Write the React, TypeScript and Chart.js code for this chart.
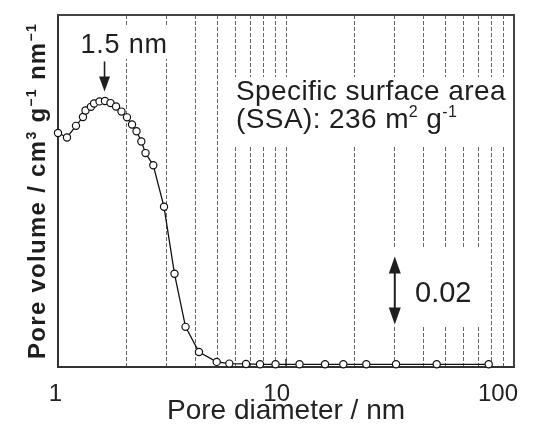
import React, { useEffect, useRef } from 'react';
import { Chart, registerables } from 'chart.js';

Chart.register(...registerables);

// ---- data ----
const poreDiameter = [
  1.0, 1.095, 1.199, 1.287, 1.32, 1.395, 1.439, 1.521, 1.607, 1.699, 1.797, 1.899,
  2.007, 2.112, 2.21, 2.32, 2.42, 2.618, 2.917, 3.243, 3.625, 4.153, 4.966, 5.641,
  6.677, 7.691, 8.995, 11.46, 14.83, 17.84, 22.5, 30.38, 45.81, 77.45,
];
const poreVolume = [
  0.0688, 0.0675, 0.0709, 0.0735, 0.0754, 0.0765, 0.0775, 0.0781, 0.0782, 0.0776, 0.0766, 0.0751,
  0.0734, 0.0713, 0.0693, 0.0663, 0.0629, 0.0593, 0.0471, 0.0274, 0.0118, 0.0044, 0.0015, 0.001,
  0.0009, 0.0008, 0.0008, 0.0008, 0.0008, 0.0008, 0.0008, 0.0008, 0.0008, 0.0008,
];
const gridValues = [1, 2, 3, 4, 5, 6, 7, 8, 9, 10, 20, 30, 40, 50, 60, 70, 80, 90, 100];
const tickLabels = [1, 10, 100];
const xTitle = 'Pore diameter / nm';
const peakLabel = '1.5 nm';
const peakArrowX = 1.6;
const ssaLine1 = 'Specific surface area';
const ssaValue = 236;
const scaleBarValue = 0.02;
const scaleBarX = 30;
const scaleBarTop = 0.0325;

const FONT = '"Liberation Sans", Arial, Helvetica, sans-serif';

type Seg = { t: string; sup?: boolean };

function segFont(size: number, weight: string, sup?: boolean) {
  return `${weight} ${sup ? Math.round(size * 0.58) : size}px ${FONT}`;
}

function richWidth(ctx: CanvasRenderingContext2D, segs: Seg[], size: number, weight: string, ls: number) {
  let w = 0;
  for (const s of segs) {
    ctx.font = segFont(size, weight, s.sup);
    w += ctx.measureText(s.t).width + ls * s.t.length;
  }
  return w;
}

function drawRich(ctx: CanvasRenderingContext2D, segs: Seg[], x: number, y: number, size: number, weight: string, ls: number) {
  let cx = x;
  for (const s of segs) {
    ctx.font = segFont(size, weight, s.sup);
    (ctx as any).letterSpacing = '0px';
    const w = ctx.measureText(s.t).width + ls * s.t.length;
    (ctx as any).letterSpacing = `${ls}px`;
    ctx.fillText(s.t, cx, s.sup ? y - size * 0.38 : y);
    cx += w;
  }
  (ctx as any).letterSpacing = '0px';
}

function arrowHead(ctx: CanvasRenderingContext2D, x: number, tipY: number, dir: number, len: number, half: number) {
  ctx.beginPath();
  ctx.moveTo(x, tipY);
  ctx.lineTo(x - half, tipY - dir * len);
  ctx.lineTo(x + half, tipY - dir * len);
  ctx.closePath();
  ctx.fill();
}

const annotPlugin = {
  id: 'annot',
  beforeDatasetsDraw(chart: any) {
    const { ctx, chartArea: a, scales } = chart;
    const xs = scales.x;
    const ys = scales.y;
    ctx.save();
    // top and right frame
    ctx.strokeStyle = '#444';
    ctx.lineWidth = 2;
    ctx.beginPath();
    ctx.moveTo(a.left, a.top);
    ctx.lineTo(a.right, a.top);
    ctx.lineTo(a.right, a.bottom);
    ctx.stroke();
    // inner tick at 10
    const x10 = xs.getPixelForValue(10);
    ctx.lineWidth = 1.5;
    ctx.strokeStyle = '#333';
    ctx.beginPath();
    ctx.moveTo(x10, a.bottom);
    ctx.lineTo(x10, a.bottom - 8);
    ctx.stroke();

    // white label backgrounds
    ctx.fillStyle = '#fff';
    ctx.fillRect(76, 27, 95, 32);
    ctx.fillRect(232, 77, 278, 68);
    ctx.fillRect(386, 247, 102, 80);

    ctx.fillStyle = '#1e1e1e';
    ctx.strokeStyle = '#1e1e1e';
    ctx.textBaseline = 'alphabetic';
    ctx.textAlign = 'left';

    // peak label + arrow
    drawRich(ctx, [{ t: peakLabel }], 80.5, 53, 27, 'normal', 0.8);
    const px = xs.getPixelForValue(peakArrowX);
    const tip = ys.getPixelForValue(0.081);
    ctx.lineWidth = 1.6;
    ctx.beginPath();
    ctx.moveTo(px, 61.5);
    ctx.lineTo(px, tip - 10);
    ctx.stroke();
    arrowHead(ctx, px, tip, 1, 15, 5.5);

    // SSA text
    drawRich(ctx, [{ t: ssaLine1 }], 236, 100, 28, 'normal', 0.4);
    drawRich(
      ctx,
      [{ t: `(SSA): ${ssaValue} m` }, { t: '2', sup: true }, { t: ' g' }, { t: '-1', sup: true }],
      236, 128, 28, 'normal', 0.4,
    );

    // scale bar
    const sx = xs.getPixelForValue(scaleBarX);
    const sy1 = ys.getPixelForValue(scaleBarTop);
    const sy2 = ys.getPixelForValue(scaleBarTop - scaleBarValue);
    ctx.lineWidth = 2;
    ctx.beginPath();
    ctx.moveTo(sx, sy1 + 10);
    ctx.lineTo(sx, sy2 - 10);
    ctx.stroke();
    arrowHead(ctx, sx, sy1, -1, 17, 6);
    arrowHead(ctx, sx, sy2, 1, 17, 6);
    drawRich(ctx, [{ t: String(scaleBarValue) }], 415, 302, 29, 'normal', 0);

    // y title
    const ySegs: Seg[] = [
      { t: 'Pore volume / cm' }, { t: '3', sup: true }, { t: ' g' }, { t: '\u22121', sup: true },
      { t: ' nm' }, { t: '\u22121', sup: true },
    ];
    const nat = richWidth(ctx, ySegs, 24, 'bold', 0);
    const nChars = ySegs.reduce((n, s) => n + s.t.length, 0);
    const ls = (336 - nat) / nChars;
    const tw = richWidth(ctx, ySegs, 24, 'bold', ls);
    ctx.translate(45, (a.top + a.bottom) / 2);
    ctx.rotate(-Math.PI / 2);
    drawRich(ctx, ySegs, -tw / 2, 0, 24, 'bold', ls);
    ctx.restore();
  },
};

export default function App() {
  const ref = useRef<HTMLCanvasElement>(null);
  useEffect(() => {
    const chart = new Chart(ref.current as HTMLCanvasElement, {
      type: 'line',
      data: {
        datasets: [
          {
            data: poreDiameter.map((x, i) => ({ x, y: poreVolume[i] })),
            borderColor: '#111',
            borderWidth: 1.3,
            pointRadius: 3.6,
            pointBorderWidth: 1.2,
            pointBackgroundColor: '#fff',
            pointBorderColor: '#111',
            tension: 0,
            clip: false,
          } as any,
        ],
      },
      options: {
        animation: false,
        responsive: true,
        maintainAspectRatio: false,
        layout: { padding: { top: 15, right: 31, left: 0, bottom: 0 } },
        plugins: { legend: { display: false }, tooltip: { enabled: false } },
        scales: {
          x: {
            type: 'logarithmic',
            min: 1,
            max: 100,
            afterBuildTicks: (s: any) => {
              s.ticks = gridValues.map((v) => ({ value: v }));
            },
            grid: {
              color: (c: any) =>
                c.tick && (c.tick.value === 1 || c.tick.value === 100) ? 'rgba(0,0,0,0)' : '#666',
              lineWidth: 1,
              drawTicks: false,
            },
            border: { display: true, color: '#333', width: 2, dash: [4, 2] },
            ticks: {
              autoSkip: false,
              maxRotation: 0,
              minRotation: 0,
              align: 'end',
              labelOffset: 4,
              padding: 13,
              color: '#222',
              font: { family: FONT, size: 24 },
              callback: (v: any) => (tickLabels.includes(Number(v)) ? String(v) : ''),
            },
            title: {
              display: true,
              text: xTitle,
              color: '#222',
              font: { family: FONT, size: 28 },
              padding: { top: 0, bottom: 0 },
            },
            afterFit: (s: any) => {
              s.height = 61;
            },
          },
          y: {
            min: 0,
            max: 0.1035,
            grid: { display: false },
            ticks: { display: false },
            border: { display: true, color: '#333', width: 2 },
            afterFit: (s: any) => {
              s.width = 58;
            },
          },
        },
      } as any,
      plugins: [annotPlugin],
    });
    return () => chart.destroy();
  }, []);
  return (
    <div style={{ position: 'fixed', left: 0, top: 0, width: 545, height: 428, background: '#fff' }}>
      <canvas ref={ref} />
    </div>
  );
}
